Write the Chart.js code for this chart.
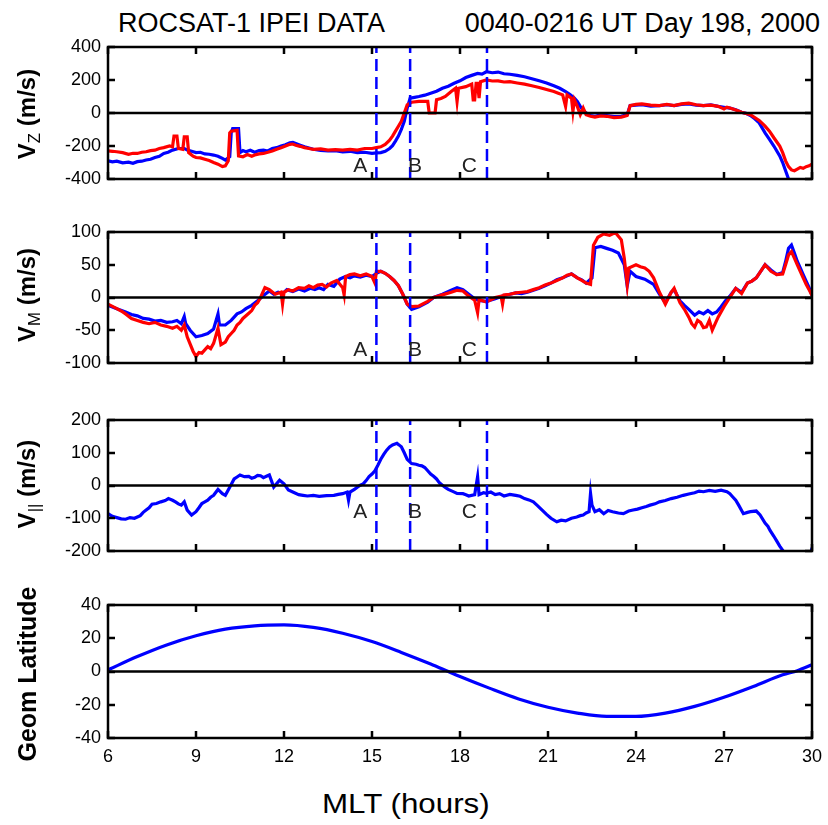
<!DOCTYPE html>
<html>
<head>
<meta charset="utf-8">
<script src="https://cdn.jsdelivr.net/npm/chart.js@4.4.1/dist/chart.umd.min.js"></script>
<style>
  body { margin: 0; background: #fff; }
  #figura { position: relative; width: 828px; height: 825px; font-family: "Liberation Sans", Arial, sans-serif; color: #000; }
  .panel { position: absolute; left: 0; width: 828px; }
  .panel canvas { display: block; }
  .titulo { position: absolute; font-size: 27px; line-height: 27px; white-space: nowrap; }
  .ylab { position: absolute; font-size: 24px; font-weight: bold; line-height: 24px; white-space: nowrap; transform: translate(-50%, -50%) rotate(-90deg); }
  .ylab sub { font-size: 0.7em; font-weight: normal; vertical-align: -0.3em; line-height: 0; }
</style>
</head>
<body>
<div id="figura">
  <div class="titulo" style="left:118px; top:10px">ROCSAT-1 IPEI DATA</div>
  <div class="titulo" style="right:8px; top:10px">0040-0216 UT Day 198, 2000</div>

  <div class="panel" style="top:35px; height:156px"><canvas id="panelVz" width="828" height="156"></canvas></div>
  <div class="panel" style="top:220px; height:155px"><canvas id="panelVm" width="828" height="155"></canvas></div>
  <div class="panel" style="top:408px; height:155px"><canvas id="panelVp" width="828" height="155"></canvas></div>
  <div class="panel" style="top:593px; height:185px"><canvas id="panelLat" width="828" height="185"></canvas></div>

  <div class="ylab" style="left:27px; top:114px">V<sub>Z</sub> (m/s)</div>
  <div class="ylab" style="left:27px; top:295px">V<sub>M</sub> (m/s)</div>
  <div class="ylab" style="left:27px; top:484px">V<sub>||</sub> (m/s)</div>
  <div class="ylab" style="left:27px; top:674px; font-size:25px">Geom Latitude</div>

  <div class="titulo" style="left:322px; top:791px; transform:scaleX(1.16); transform-origin:left center">MLT (hours)</div>
</div>

<script>
// ejes
const mltTicks = [6, 9, 12, 15, 18, 21, 24, 27, 30];
const vzTicks = [-400, -200, 0, 200, 400];
const vmTicks = [-100, -50, 0, 50, 100];
const vpTicks = [-200, -100, 0, 100, 200];
const latTicks = [-40, -20, 0, 20, 40];

// eventos A, B, C
const marcadores = ['A', 'B', 'C'];
const marcadorX = [15.15, 16.3, 18.92];
const letraX = [14.6, 16.47, 18.32];

// V_Z (m/s) [MLT, valor]
const vzAzul = [
  [6.0,-290],[6.15,-296],[6.3,-292],[6.5,-302],[6.7,-298],[6.85,-305],[7.0,-295],[7.15,-292],[7.3,-285],
  [7.45,-280],[7.6,-270],[7.75,-262],[7.9,-245],[8.05,-238],[8.2,-225],[8.4,-215],[8.6,-215],[8.7,-225],
  [8.85,-232],[9.0,-240],[9.15,-238],[9.3,-248],[9.45,-250],[9.6,-255],[9.75,-262],[9.9,-275],[10.0,-285],
  [10.15,-265],[10.2,-120],[10.25,-95],[10.45,-95],[10.5,-240],[10.6,-228],[10.7,-235],[10.85,-226],
  [11.0,-238],[11.15,-228],[11.3,-225],[11.45,-230],[11.6,-215],[11.75,-210],[11.9,-200],[12.05,-192],
  [12.2,-180],[12.3,-178],[12.4,-185],[12.55,-195],[12.7,-205],[12.85,-212],[13.0,-220],[13.25,-226],
  [13.5,-230],[13.75,-228],[14.0,-235],[14.25,-232],[14.5,-240],[14.75,-238],[15.0,-245],[15.15,-242],
  [15.3,-240],[15.45,-232],[15.6,-215],[15.7,-198],[15.8,-170],[15.9,-140],[16.0,-100],[16.1,-50],
  [16.2,30],[16.3,90],[16.45,95],[16.6,100],[16.8,108],[17.0,120],[17.2,132],[17.4,150],[17.6,162],
  [17.8,180],[18.0,195],[18.2,215],[18.4,228],[18.6,240],[18.75,236],[18.9,250],[19.1,244],[19.3,248],
  [19.5,238],[19.7,235],[19.95,228],[20.2,220],[20.45,208],[20.7,195],[20.95,182],[21.2,165],[21.4,150],
  [21.6,130],[21.75,112],[21.9,90],[22.0,70],[22.1,40],[22.2,15],[22.3,0],[22.45,-15],[22.6,-20],
  [22.8,-12],[23.0,-15],[23.25,-22],[23.5,-20],[23.7,-10],[23.8,45],[24.0,48],[24.2,50],[24.5,42],
  [24.8,45],[25.05,50],[25.3,45],[25.55,52],[25.8,55],[26.05,48],[26.3,45],[26.55,50],[26.8,40],
  [27.0,35],[27.2,30],[27.4,20],[27.6,5],[27.75,-2],[27.9,-15],[28.05,-35],[28.2,-60],[28.4,-120],
  [28.55,-160],[28.7,-200],[28.9,-260],[29.0,-300],[29.1,-350],[29.2,-400],[29.3,-420]
];
const vzRojo = [
  [6.0,-230],[6.15,-232],[6.3,-235],[6.5,-240],[6.7,-250],[6.85,-244],[7.0,-245],[7.15,-238],[7.3,-235],
  [7.45,-228],[7.6,-225],[7.75,-215],[7.9,-210],[8.1,-200],[8.2,-205],[8.25,-140],[8.35,-140],[8.4,-215],
  [8.55,-220],[8.6,-145],[8.7,-145],[8.75,-240],[8.9,-262],[9.0,-270],[9.15,-272],[9.3,-280],[9.45,-288],
  [9.6,-300],[9.75,-310],[9.9,-325],[10.0,-320],[10.1,-290],[10.15,-120],[10.2,-110],[10.4,-105],
  [10.45,-260],[10.6,-265],[10.75,-252],[10.9,-262],[11.0,-255],[11.15,-248],[11.3,-245],[11.45,-238],
  [11.6,-230],[11.75,-220],[11.9,-210],[12.05,-200],[12.2,-190],[12.3,-188],[12.4,-195],[12.55,-202],
  [12.7,-210],[12.85,-215],[13.0,-220],[13.25,-218],[13.5,-225],[13.75,-222],[14.0,-225],[14.25,-220],
  [14.5,-225],[14.75,-215],[15.0,-215],[15.15,-210],[15.3,-205],[15.45,-190],[15.6,-165],[15.7,-140],
  [15.8,-110],[15.9,-80],[16.0,-50],[16.1,0],[16.2,50],[16.35,65],[16.6,70],[16.9,70],[16.95,0],
  [17.15,0],[17.2,80],[17.35,88],[17.5,100],[17.7,130],[17.85,150],[17.9,70],[17.95,150],[18.2,160],
  [18.4,175],[18.45,80],[18.5,80],[18.55,180],[18.6,180],[18.65,90],[18.7,190],[18.9,200],[19.1,194],
  [19.3,195],[19.5,188],[19.7,190],[19.95,182],[20.2,175],[20.45,165],[20.7,155],[20.95,142],[21.2,130],
  [21.35,120],[21.5,110],[21.6,40],[21.65,110],[21.8,90],[21.85,10],[21.9,80],[22.0,40],[22.1,-10],
  [22.2,30],[22.3,-10],[22.45,-20],[22.6,-25],[22.8,-18],[23.0,-20],[23.25,-28],[23.5,-25],[23.7,-15],
  [23.8,45],[24.0,52],[24.2,55],[24.5,48],[24.8,45],[25.05,52],[25.3,45],[25.55,55],[25.8,60],
  [26.05,50],[26.3,45],[26.55,48],[26.8,40],[27.0,25],[27.1,35],[27.2,30],[27.4,18],[27.6,5],[27.9,-10],
  [28.2,-45],[28.4,-80],[28.55,-110],[28.7,-150],[28.9,-200],[29.0,-240],[29.1,-290],[29.2,-325],
  [29.3,-345],[29.4,-350],[29.5,-340],[29.6,-330],[29.7,-335],[29.8,-325],[29.9,-320],[30.0,-310]
];

// V_M (m/s)
const vmAzul = [
  [6.0,-12],[6.3,-17],[6.6,-22],[6.8,-26],[7.0,-28],[7.2,-32],[7.4,-33],[7.6,-36],[7.8,-35],[8.0,-38],
  [8.2,-37],[8.35,-35],[8.5,-40],[8.6,-29],[8.65,-40],[8.8,-50],[9.0,-60],[9.2,-58],[9.4,-55],[9.6,-48],
  [9.75,-25],[9.8,-42],[10.0,-42],[10.2,-35],[10.4,-25],[10.55,-22],[10.7,-17],[10.9,-12],[11.1,-5],
  [11.3,3],[11.5,10],[11.65,5],[11.8,8],[11.95,6],[12.1,12],[12.3,9],[12.5,13],[12.7,10],[12.9,14],
  [13.05,12],[13.2,15],[13.35,12],[13.5,20],[13.7,17],[13.9,28],[14.1,32],[14.25,30],[14.4,33],
  [14.6,31],[14.8,34],[15.0,32],[15.15,37],[15.3,40],[15.45,37],[15.6,32],[15.75,26],[15.9,18],
  [16.05,5],[16.2,-10],[16.35,-18],[16.6,-14],[16.9,-7],[17.1,0],[17.4,5],[17.7,11],[17.9,15],[18.1,12],
  [18.3,5],[18.5,-2],[18.7,-5],[18.9,-6],[19.2,-2],[19.5,3],[19.7,5],[19.9,7],[20.1,6],[20.3,8],
  [20.5,11],[20.7,14],[20.9,18],[21.1,22],[21.3,27],[21.5,30],[21.65,33],[21.8,36],[22.0,30],[22.15,27],
  [22.3,22],[22.5,30],[22.6,76],[22.8,78],[23.0,75],[23.2,72],[23.4,68],[23.6,50],[23.7,18],[23.8,40],
  [24.0,32],[24.3,28],[24.6,20],[24.8,5],[25.0,-8],[25.2,8],[25.3,12],[25.5,-5],[25.65,-12],[25.8,-18],
  [26.0,-27],[26.15,-22],[26.3,-25],[26.45,-20],[26.6,-25],[26.75,-22],[26.9,-14],[27.05,-5],[27.2,2],
  [27.4,14],[27.6,8],[27.8,22],[27.95,25],[28.1,30],[28.25,40],[28.4,50],[28.6,42],[28.8,35],[29.0,38],
  [29.1,55],[29.2,75],[29.3,80],[29.4,68],[29.5,55],[29.6,45],[29.7,35],[29.8,25],[29.9,15],[30.0,3]
];
const vmRojo = [
  [6.0,-10],[6.3,-17],[6.5,-22],[6.6,-25],[6.8,-32],[7.0,-35],[7.2,-38],[7.4,-40],[7.6,-38],[7.8,-42],
  [8.0,-44],[8.2,-47],[8.35,-44],[8.5,-50],[8.6,-42],[8.7,-60],[8.9,-82],[9.0,-90],[9.1,-84],[9.2,-85],
  [9.3,-80],[9.4,-75],[9.5,-78],[9.6,-70],[9.75,-47],[9.85,-72],[10.0,-68],[10.1,-60],[10.2,-55],
  [10.3,-50],[10.4,-42],[10.5,-38],[10.6,-32],[10.8,-24],[10.9,-20],[11.0,-12],[11.1,-8],[11.2,0],
  [11.35,15],[11.5,12],[11.7,5],[11.9,8],[11.95,-10],[12.0,8],[12.15,12],[12.3,10],[12.5,15],[12.7,14],
  [12.85,18],[13.0,15],[13.15,19],[13.3,20],[13.45,16],[13.6,22],[13.8,26],[14.0,15],[14.05,4],[14.1,32],
  [14.25,35],[14.4,36],[14.6,33],[14.8,36],[15.0,32],[15.1,22],[15.15,40],[15.3,40],[15.45,37],
  [15.6,32],[15.75,26],[15.9,18],[16.05,5],[16.2,-10],[16.35,-14],[16.6,-13],[16.9,-6],[17.1,0],
  [17.4,4],[17.7,8],[17.9,11],[18.1,10],[18.3,2],[18.5,-4],[18.6,-23],[18.65,-3],[18.9,-7],[19.2,0],
  [19.4,2],[19.45,-10],[19.5,4],[19.7,5],[19.9,7],[20.1,8],[20.3,9],[20.5,12],[20.7,15],[20.9,19],
  [21.1,22],[21.3,26],[21.5,30],[21.65,34],[21.8,36],[22.0,30],[22.15,26],[22.3,22],[22.45,20],
  [22.55,80],[22.7,92],[22.9,97],[23.1,95],[23.3,99],[23.5,88],[23.6,60],[23.7,20],[23.75,45],[24.0,50],
  [24.15,47],[24.3,45],[24.45,40],[24.6,30],[24.8,8],[25.0,-10],[25.2,8],[25.3,14],[25.5,-8],[25.65,-18],
  [25.8,-30],[25.9,-40],[26.0,-45],[26.1,-35],[26.2,-38],[26.3,-46],[26.4,-45],[26.5,-35],[26.6,-50],
  [26.7,-40],[26.8,-30],[27.0,-14],[27.2,0],[27.4,14],[27.6,6],[27.8,22],[27.95,25],[28.1,30],[28.25,40],
  [28.4,50],[28.6,40],[28.8,35],[29.0,36],[29.1,50],[29.2,65],[29.3,70],[29.4,60],[29.5,50],[29.6,40],
  [29.7,30],[29.8,20],[29.9,12],[30.0,3]
];

// V_|| (m/s)
const vpAzul = [
  [6.0,-86],[6.15,-94],[6.3,-98],[6.45,-102],[6.6,-103],[6.75,-98],[6.9,-100],[7.0,-96],[7.1,-92],
  [7.2,-82],[7.3,-75],[7.4,-68],[7.5,-57],[7.65,-55],[7.8,-50],[7.95,-46],[8.06,-40],[8.2,-45],[8.3,-50],
  [8.4,-56],[8.5,-60],[8.6,-50],[8.7,-75],[8.85,-90],[9.0,-80],[9.1,-68],[9.2,-55],[9.3,-50],[9.4,-45],
  [9.5,-36],[9.6,-30],[9.75,-12],[9.9,-25],[10.0,-30],[10.15,-5],[10.3,20],[10.4,26],[10.5,32],[10.65,27],
  [10.8,28],[10.9,22],[11.0,25],[11.1,31],[11.2,30],[11.3,24],[11.4,28],[11.5,32],[11.65,-5],[11.85,16],
  [12.0,5],[12.15,-14],[12.3,-20],[12.5,-28],[12.65,-30],[12.8,-32],[13.0,-30],[13.2,-33],[13.45,-31],
  [13.7,-30],[13.85,-27],[14.0,-25],[14.15,-20],[14.2,-45],[14.25,-20],[14.4,-12],[14.5,-5],[14.6,1],
  [14.7,5],[14.8,15],[14.9,27],[15.0,35],[15.1,45],[15.2,62],[15.3,80],[15.4,95],[15.5,108],[15.6,118],
  [15.7,124],[15.85,129],[15.92,124],[16.0,118],[16.1,100],[16.2,80],[16.35,67],[16.5,65],[16.6,62],
  [16.7,60],[16.8,55],[16.9,45],[17.0,35],[17.1,28],[17.2,20],[17.3,8],[17.4,1],[17.5,-6],[17.6,-12],
  [17.75,-18],[17.9,-24],[18.1,-25],[18.2,-28],[18.3,-32],[18.5,-28],[18.6,27],[18.65,-28],[18.8,-22],
  [18.9,-24],[19.05,-20],[19.2,-28],[19.35,-25],[19.5,-32],[19.7,-27],[19.9,-30],[20.05,-33],[20.2,-40],
  [20.35,-44],[20.5,-50],[20.65,-62],[20.8,-75],[20.95,-88],[21.1,-100],[21.3,-111],[21.45,-106],
  [21.6,-108],[21.8,-100],[21.98,-96],[22.1,-92],[22.2,-90],[22.3,-84],[22.4,-80],[22.45,-24],[22.5,-60],
  [22.6,-80],[22.75,-74],[22.9,-86],[23.05,-76],[23.2,-80],[23.4,-84],[23.57,-86],[23.75,-78],[23.9,-75],
  [24.05,-72],[24.2,-68],[24.35,-64],[24.48,-60],[24.65,-56],[24.8,-50],[25.0,-46],[25.2,-40],[25.4,-36],
  [25.61,-30],[25.8,-26],[26.0,-22],[26.15,-17],[26.3,-19],[26.5,-15],[26.7,-18],[26.9,-14],[27.1,-19],
  [27.2,-25],[27.3,-35],[27.4,-45],[27.5,-60],[27.66,-86],[27.8,-82],[27.9,-80],[28.1,-78],[28.23,-90],
  [28.4,-115],[28.5,-125],[28.57,-137],[28.7,-155],[28.8,-170],[28.9,-185],[29.02,-200],[29.2,-230],
  [29.9,-240],[30.0,-190]
];

// Geom Latitude (grados)
const latitud = [
  [6,1],[7,9],[8,16],[9,21.5],[10,25.5],[11,27.5],[12,28],[13,26.5],[14,23],[15,18],[16,11.5],[17,4.5],
  [17.6,0],[18,-3],[19,-10],[20,-16.5],[21,-21.5],[22,-25],[23,-27],[24,-27],[25,-25],[26,-21],
  [27,-15.5],[28,-9],[29,-2],[29.5,0.5],[30,4]
];

const fuente = '"Liberation Sans", Arial, sans-serif';
Chart.defaults.font.family = fuente;
Chart.defaults.color = '#000';

const marcoMatlab = {
  id: 'marcoMatlab',
  afterDraw(chart) {
    const ctx = chart.ctx;
    const a = chart.chartArea;
    const sx = chart.scales.x;
    const sy = chart.scales.y;
    ctx.save();
    ctx.strokeStyle = '#000';
    ctx.lineWidth = 2.5;
    ctx.beginPath();
    sx.ticks.forEach(t => {
      const px = Math.round(sx.getPixelForValue(t.value));
      ctx.moveTo(px, a.top); ctx.lineTo(px, a.top + 7);
      ctx.moveTo(px, a.bottom); ctx.lineTo(px, a.bottom - 7);
    });
    sy.ticks.forEach(t => {
      const py = Math.round(sy.getPixelForValue(t.value));
      ctx.moveTo(a.left, py); ctx.lineTo(a.left + 7, py);
      ctx.moveTo(a.right, py); ctx.lineTo(a.right - 7, py);
    });
    ctx.stroke();
    ctx.strokeRect(a.left, a.top, a.width, a.height);
    ctx.restore();
  }
};

const letras = {
  id: 'letras',
  afterDatasetsDraw(chart, args, opts) {
    if (!opts || opts.y === undefined) return;
    const ctx = chart.ctx;
    ctx.save();
    ctx.font = '21px ' + fuente;
    ctx.fillStyle = '#222';
    ctx.textAlign = 'center';
    ctx.textBaseline = 'alphabetic';
    marcadores.forEach((m, i) => {
      ctx.fillText(m, chart.scales.x.getPixelForValue(letraX[i]), chart.scales.y.getPixelForValue(opts.y));
    });
    ctx.restore();
  }
};

function crearPanel(id, series, yTicks, letraY, mostrarX) {
  const yMin = yTicks[0];
  const yMax = yTicks[yTicks.length - 1];
  const datasets = [];

  if (letraY !== undefined) {
    marcadorX.forEach(mx => {
      datasets.push({ data: [[mx, yMin], [mx, yMax]], borderColor: '#0000ff', borderWidth: 2.5, borderDash: [12, 6] });
    });
  }
  datasets.push({ data: [[mltTicks[0], 0], [mltTicks[mltTicks.length - 1], 0]], borderColor: '#000', borderWidth: 2.5 });
  series.forEach(s => {
    datasets.push({ data: s.data, borderColor: s.color, borderWidth: 3.2, cubicInterpolationMode: s.suave ? 'monotone' : 'default', tension: s.suave ? 0.4 : 0 });
  });

  return new Chart(document.getElementById(id), {
    type: 'scatter',
    data: { datasets: datasets },
    options: {
      responsive: false,
      animation: false,
      events: [],
      showLine: true,
      elements: { point: { radius: 0 }, line: { borderJoinStyle: 'miter' } },
      datasets: { scatter: { clip: 0, showLine: true, pointRadius: 0 } },
      layout: { padding: { top: 12, right: 16, left: 0, bottom: 0 } },
      plugins: {
        legend: { display: false },
        tooltip: { enabled: false },
        letras: { y: letraY }
      },
      scales: {
        x: {
          type: 'linear',
          min: mltTicks[0],
          max: mltTicks[mltTicks.length - 1],
          afterBuildTicks: s => { s.ticks = mltTicks.map(v => ({ value: v })); },
          afterFit: s => { s.height = mostrarX ? 40 : 12; s.paddingLeft = 0; s.paddingRight = 0; },
          ticks: { display: mostrarX, font: { size: 18 }, color: '#000', padding: 8, maxRotation: 0, autoSkip: false },
          grid: { display: false, drawTicks: false },
          border: { display: false }
        },
        y: {
          min: yMin,
          max: yMax,
          afterBuildTicks: s => { s.ticks = yTicks.map(v => ({ value: v })); },
          afterFit: s => { s.width = 108; s.paddingTop = 0; s.paddingBottom = 0; },
          ticks: { font: { size: 18 }, color: '#000', padding: 7 },
          grid: { display: false, drawTicks: false },
          border: { display: false }
        }
      }
    },
    plugins: [marcoMatlab, letras]
  });
}

crearPanel('panelVz', [{ data: vzRojo, color: '#ff0000' }, { data: vzAzul, color: '#0000ff' }], vzTicks, -360, false);
crearPanel('panelVm', [{ data: vmRojo, color: '#ff0000' }, { data: vmAzul, color: '#0000ff' }], vmTicks, -90, false);
crearPanel('panelVp', [{ data: vpAzul, color: '#0000ff' }], vpTicks, -100, false);
crearPanel('panelLat', [{ data: latitud, color: '#0000ff', suave: true }], latTicks, undefined, true);
</script>
</body>
</html>
